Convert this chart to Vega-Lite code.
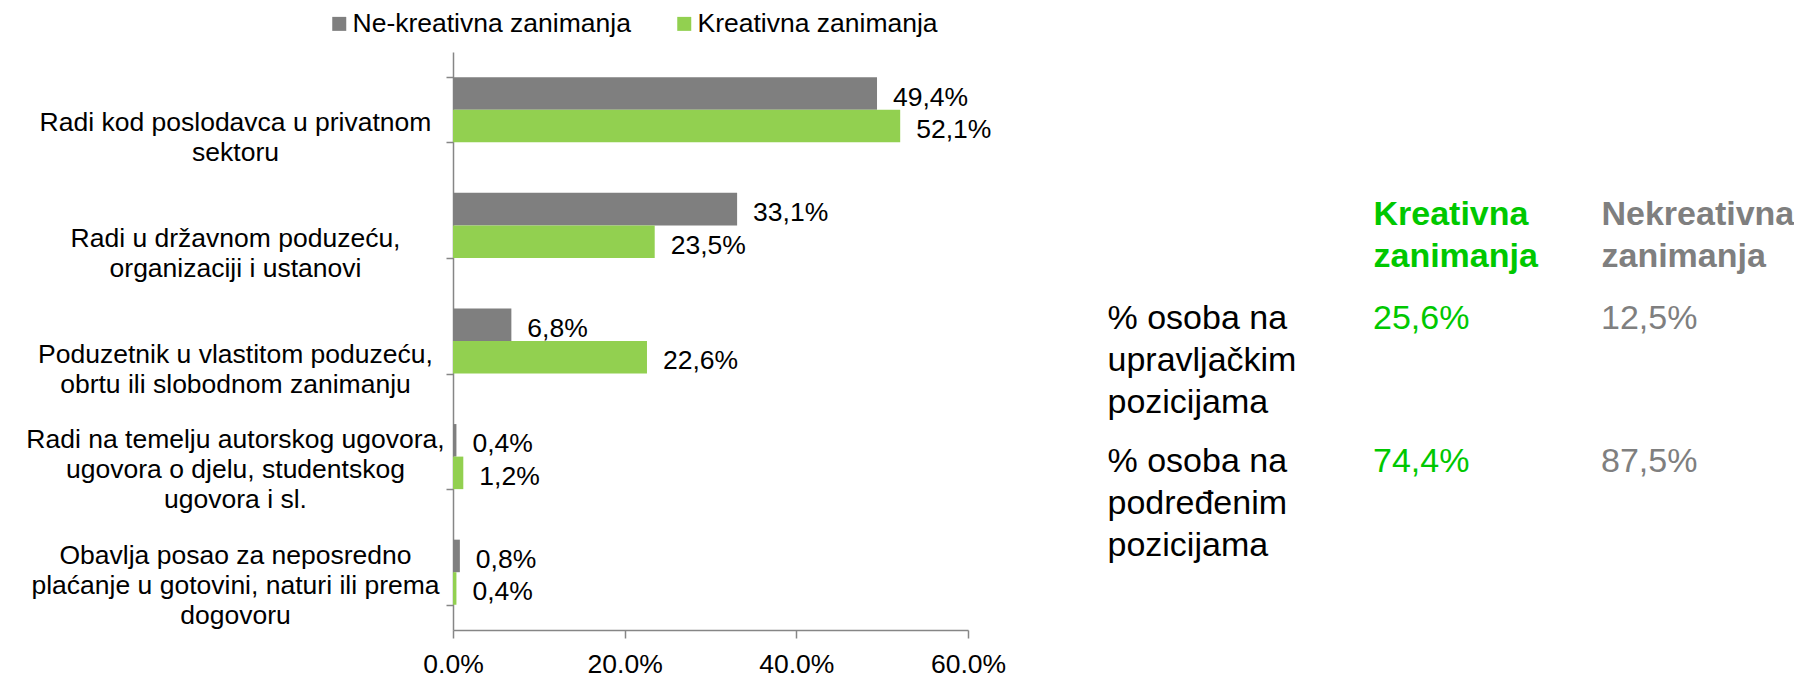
{
  "$schema": "https://vega.github.io/schema/vega-lite/v6.json",
  "padding": {"left": 25, "top": 10, "right": 0, "bottom": 0},
  "background": "white",
  "config": {
    "font": "Liberation Sans",
    "view": {"stroke": null},
    "locale": {"number": {"decimal": ",", "thousands": ".", "grouping": [3], "currency": ["", " €"]}}
  },
  "spacing": 405,
  "bounds": "flush",
  "hconcat": [
    {
      "width": 515,
      "height": 578,
      "data": {"values": [
        {"category": "Radi kod poslodavca u privatnom|sektoru", "group": "Ne-kreativna zanimanja", "value": 0.494},
        {"category": "Radi kod poslodavca u privatnom|sektoru", "group": "Kreativna zanimanja", "value": 0.521},
        {"category": "Radi u državnom poduzeću,|organizaciji i ustanovi", "group": "Ne-kreativna zanimanja", "value": 0.331},
        {"category": "Radi u državnom poduzeću,|organizaciji i ustanovi", "group": "Kreativna zanimanja", "value": 0.235},
        {"category": "Poduzetnik u vlastitom poduzeću,|obrtu ili slobodnom zanimanju", "group": "Ne-kreativna zanimanja", "value": 0.068},
        {"category": "Poduzetnik u vlastitom poduzeću,|obrtu ili slobodnom zanimanju", "group": "Kreativna zanimanja", "value": 0.226},
        {"category": "Radi na temelju autorskog ugovora,|ugovora o djelu, studentskog|ugovora i sl.", "group": "Ne-kreativna zanimanja", "value": 0.004},
        {"category": "Radi na temelju autorskog ugovora,|ugovora o djelu, studentskog|ugovora i sl.", "group": "Kreativna zanimanja", "value": 0.012},
        {"category": "Obavlja posao za neposredno|plaćanje u gotovini, naturi ili prema|dogovoru", "group": "Ne-kreativna zanimanja", "value": 0.008},
        {"category": "Obavlja posao za neposredno|plaćanje u gotovini, naturi ili prema|dogovoru", "group": "Kreativna zanimanja", "value": 0.004}
      ]},
      "encoding": {
        "y": {
          "field": "category", "type": "nominal", "sort": null,
          "scale": {"paddingInner": 0.437, "paddingOuter": 0.2185},
          "axis": {
            "title": null, "tickBand": "extent", "tickSize": 7, "tickColor": "#868686", "tickWidth": 1.5,
            "domainColor": "#868686", "domainWidth": 1.5,
            "labelExpr": "split(length(split(datum.label, '|')) < 3 ? '|' + datum.label : datum.label, '|')",
            "labelAlign": "center", "labelBaseline": "top", "labelOffset": -30,
            "labelPadding": 211,
            "labelFontSize": 26.5, "labelLineHeight": 30,
            "labelLimit": 0, "labelColor": "black"
          }
        },
        "yOffset": {"field": "group", "type": "nominal", "scale": {"domain": ["Ne-kreativna zanimanja", "Kreativna zanimanja"]}}
      },
      "layer": [
        {
          "mark": {"type": "bar"},
          "encoding": {
            "x": {
              "field": "value", "type": "quantitative",
              "scale": {"domain": [0, 0.6], "nice": false},
              "axis": {
                "title": null, "values": [0, 0.2, 0.4, 0.6], "format": ".1%", "grid": false,
                "domainColor": "#868686", "domainWidth": 1.5, "tickColor": "#868686", "tickWidth": 1.5, "tickSize": 8,
                "labelFontSize": 26.5, "labelColor": "black", "labelPadding": 13, "labelFlush": false
              }
            },
            "color": {
              "field": "group", "type": "nominal",
              "scale": {"domain": ["Ne-kreativna zanimanja", "Kreativna zanimanja"], "range": ["#7F7F7F", "#92D050"]},
              "legend": {
                "orient": "none", "legendX": -127, "legendY": -41.5, "direction": "horizontal", "title": null,
                "symbolType": "square", "symbolSize": 196, "symbolStrokeWidth": 0, "labelFontSize": 26.5,
                "labelColor": "black", "labelOffset": 0, "columnPadding": 40, "padding": 0, "labelLimit": 0
              }
            }
          }
        },
        {
          "mark": {"type": "text", "align": "left", "baseline": "middle", "dx": 16, "dy": 4, "fontSize": 26.5, "color": "black"},
          "encoding": {
            "x": {"field": "value", "type": "quantitative"},
            "text": {"field": "value", "type": "quantitative", "format": ".1%"}
          }
        }
      ]
    },
    {
      "width": 228,
      "height": 429,
      "data": {"values": [
        {"row": "% osoba na|upravljačkim|pozicijama", "col": "Kreativna zanimanja", "value": 0.256},
        {"row": "% osoba na|upravljačkim|pozicijama", "col": "Nekreativna zanimanja", "value": 0.125},
        {"row": "% osoba na|podređenim|pozicijama", "col": "Kreativna zanimanja", "value": 0.744},
        {"row": "% osoba na|podređenim|pozicijama", "col": "Nekreativna zanimanja", "value": 0.875}
      ]},
      "mark": {"type": "text", "align": "left", "baseline": "top", "fontSize": 34},
      "encoding": {
        "x": {
          "field": "col", "type": "nominal",
          "scale": {"type": "point", "domain": ["Kreativna zanimanja", "Nekreativna zanimanja"], "padding": 0},
          "axis": {
            "orient": "top", "title": null, "domain": false, "ticks": false, "tickSize": 0, "labelAngle": 0,
            "labelExpr": "split(datum.label, ' ')", "labelAlign": "left", "labelBaseline": "bottom",
            "labelPadding": -179, "labelFontSize": 34, "labelFontWeight": "bold", "labelLineHeight": 42,
            "labelColor": {"condition": {"test": "datum.value === 'Kreativna zanimanja'", "value": "#00C800"}, "value": "#7F7F7F"},
            "labelLimit": 0, "labelFlush": false, "labelOverlap": false
          }
        },
        "y": {
          "field": "row", "type": "nominal", "sort": null,
          "scale": {"type": "point", "padding": 1, "align": 0.874},
          "axis": {
            "title": null, "domain": false, "ticks": false, "tickSize": 0,
            "labelExpr": "split(datum.label, '|')", "labelAlign": "left", "labelBaseline": "top",
            "labelPadding": 266, "labelFontSize": 34, "labelLineHeight": 42, "labelLimit": 0, "labelColor": "black"
          }
        },
        "text": {"field": "value", "type": "quantitative", "format": ".1%"},
        "color": {"condition": {"test": "datum.col === 'Kreativna zanimanja'", "value": "#00C800"}, "value": "#7F7F7F"}
      }
    }
  ]
}
